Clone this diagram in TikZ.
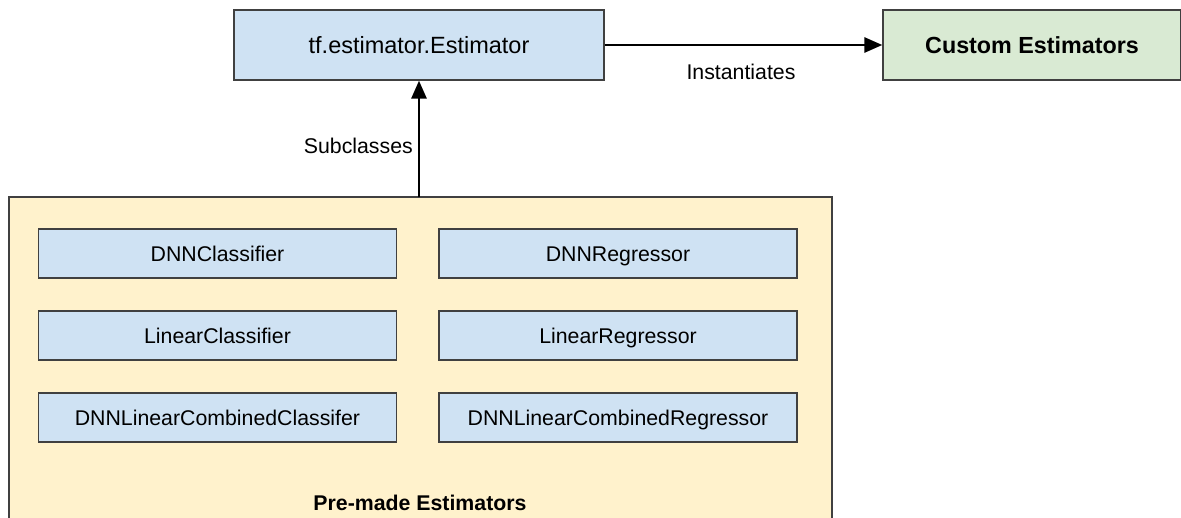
\documentclass[tikz,border=0pt]{standalone}
\usepackage{fontspec}
\setmainfont{Liberation Sans}
\usetikzlibrary{arrows.meta}
\definecolor{bluefill}{HTML}{CFE2F3}
\definecolor{greenfill}{HTML}{D9EAD3}
\definecolor{yellowfill}{HTML}{FFF2CC}
\definecolor{edge}{HTML}{404040}
\tikzset{
  box/.style={draw=edge, line width=1.3pt, fill=bluefill, inner sep=0pt, anchor=center,
    text height=15.3pt, text depth=0pt,
    font=\fontsize{21.3}{25}\selectfont},
  inner/.style={box, minimum width=358pt, minimum height=49pt},
  bigtext/.style={text height=16.8pt, font=\fontsize{23.5}{28}\selectfont},
  lbl/.style={inner sep=0pt, font=\fontsize{21.3}{25}\selectfont},
  conn/.style={line width=2.8pt, -{Triangle[length=18pt,width=15pt]}},
}
\begin{document}
\begin{tikzpicture}[x=1pt, y=-1pt]
\useasboundingbox (0,0) rectangle (1181,517);
% container
\path[draw=edge, line width=1.3pt, fill=yellowfill] (9,530) -- (9,197) -- (832,197) -- (832,530);
\coordinate (cont) at (419,197);
\node[lbl, font=\fontsize{21.3}{25}\selectfont\bfseries] (pm) at (420,503) {Pre-made Estimators};
% top
\node[box, bigtext, minimum width=370pt, minimum height=70pt] (est) at (419,45) {tf.estimator.Estimator};
\node[box, bigtext, fill=greenfill, minimum width=298pt, minimum height=70pt, font=\fontsize{23.3}{28}\selectfont\bfseries] (cust) at (1032,45) {Custom Estimators};
% inner boxes
\node[inner] (dc) at (217.5,253.5) {DNNClassifier};
\node[inner] (dr) at (618,253.5) {DNNRegressor};
\node[inner] (lc) at (217.5,335.5) {LinearClassifier};
\node[inner] (lr) at (618,335.5) {LinearRegressor};
\node[inner] (dlc) at (217.5,417.5) {DNNLinearCombinedClassifer};
\node[inner] (dlr) at (618,417.5) {DNNLinearCombinedRegressor};
% connectors
\draw[conn] (cont) -- (cont |- est.south);
\draw[conn] (est.east) -- (cust.west);
\node[lbl] (inst) at (741,72) {Instantiates};
\node[lbl, anchor=east] (sub) at (413,146) {Subclasses};
\end{tikzpicture}
\end{document}
